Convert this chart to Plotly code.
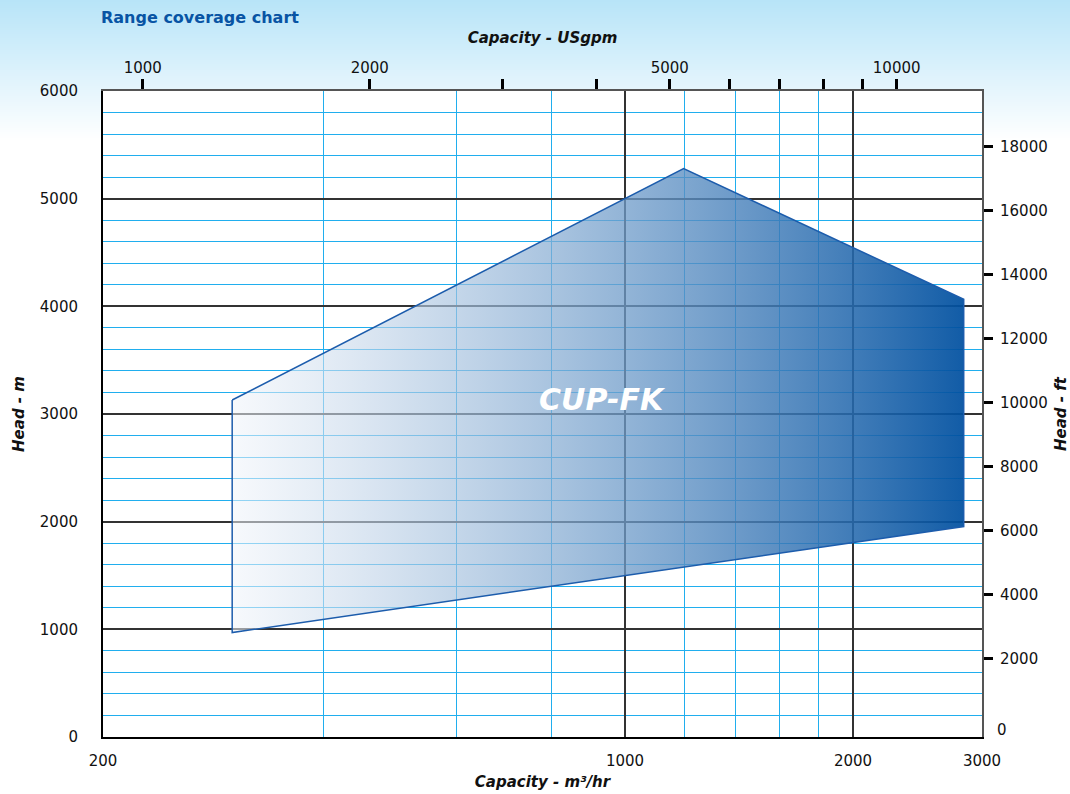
import math
import plotly.graph_objects as go

# ---------------- data ----------------
series_name = "CUP-FK"
capacity_m3h = [303, 1195, 2800, 2800, 303, 303]      # polygon vertices (m3/hr), closed
head_m = [3130, 5280, 4065, 1955, 970, 3130]          # polygon vertices (m), closed
label_capacity = [930]
label_head = [3110]

x_range_m3h = [204.6, 2960]
x_tickvals = [204.6, 1000, 2000, 2960]
x_ticktext = ["200", "1000", "2000", "3000"]
x_minor_grid = [400, 600, 800, 1200, 1400, 1600, 1800]

top_range_gpm = [885.6, 12977]
top_tickvals = [1000, 2000, 3000, 4000, 5000, 6000, 7000, 8000, 9000, 10000]
top_ticktext = ["1000", "2000", "", "", "5000", "", "", "", "", "10000"]

y_range_m = [0, 6000]
y_tickvals = [0, 1000, 2000, 3000, 4000, 5000, 6000]

ft_range = [-450, 19740]
ft_tickvals = [2000, 4000, 6000, 8000, 10000, 12000, 14000, 16000, 18000]
ft_ticktext = ["2000", "4000", "6000", "8000", "10000", "12000", "14000", "16000", "18000"]
ft_zero_label = "0"

# ---------------- style ----------------
FONT = "DejaVu Sans"
BLUE_GRID = "rgb(32,174,238)"
DARK_GRID = "#333333"
TXT = "#111111"

W, H = 1070, 794
ML, MR, MT, MB = 103, 88, 91, 57
PW, PH = W - ML - MR, H - MT - MB

fig = go.Figure()

fig.add_trace(go.Scatter(
    x=capacity_m3h, y=head_m, mode="lines", fill="toself",
    line=dict(color="rgb(28,92,172)", width=1.5),
    fillgradient=dict(type="horizontal",
                      colorscale=[[0, "rgba(240,244,250,0.55)"],
                                  [1, "rgba(0,80,160,0.93)"]]),
    hoverinfo="skip", name=series_name))

fig.add_trace(go.Scatter(
    x=label_capacity, y=label_head, mode="text",
    text=["<b><i>" + series_name + "</i></b>"],
    textfont=dict(family=FONT, size=30, color="white"),
    hoverinfo="skip"))

# helper traces so secondary axes exist
fig.add_trace(go.Scatter(x=[], y=[], xaxis="x2", yaxis="y", hoverinfo="skip"))
fig.add_trace(go.Scatter(x=[], y=[], xaxis="x", yaxis="y2", hoverinfo="skip"))

# ---------------- background gradient (top band) ----------------
shapes = []
top_col = (183, 228, 248)
band = 140
step = 2
def py_to_paper(py):
    return (H - MB - py) / PH
def px_to_paper(px):
    return (px - ML) / PW
for i in range(0, band, step):
    t = (i + step / 2) / band
    c = tuple(round(top_col[k] + (255 - top_col[k]) * t) for k in range(3))
    col = "rgb(%d,%d,%d)" % c
    y0, y1 = py_to_paper(i + step), py_to_paper(i)
    if i + step <= MT:
        pieces = [(px_to_paper(0), px_to_paper(W))]
    else:
        pieces = [(px_to_paper(0), 0), (1, px_to_paper(W))]
    for a, b in pieces:
        shapes.append(dict(type="rect", xref="paper", yref="paper", x0=a, x1=b,
                           y0=y0, y1=y1, fillcolor=col, line=dict(width=0),
                           layer="below"))

fig.update_layout(
    width=W, height=H, autosize=False,
    margin=dict(l=ML, r=MR, t=MT, b=MB, pad=0, autoexpand=False),
    paper_bgcolor="white", plot_bgcolor="white",
    showlegend=False,
    shapes=shapes,
    font=dict(family=FONT, size=15, color=TXT),
    title=dict(text="<b>Range coverage chart</b>", x=101 / W, xanchor="left",
               xref="container", y=1 - 17 / H, yanchor="middle", yref="container",
               automargin=False,
               font=dict(family=FONT, size=16, color="rgb(8,84,164)")),
    xaxis=dict(type="log", range=[math.log10(v) for v in x_range_m3h],
               automargin=False,
               tickmode="array", tickvals=x_tickvals, ticktext=x_ticktext,
               ticks="", showline=True, linecolor="black", linewidth=2,
               showgrid=True, gridcolor=DARK_GRID, gridwidth=1.5, zeroline=False,
               minor=dict(tickmode="array", tickvals=x_minor_grid, showgrid=True,
                          gridcolor=BLUE_GRID, gridwidth=1.3),
               ticklabelstandoff=9,
               title=dict(text="<b><i>Capacity - m³/hr</i></b>", standoff=7,
                          font=dict(family=FONT, size=15, color=TXT))),
    xaxis2=dict(type="log", overlaying="x", side="top", automargin=False,
                range=[math.log10(v) for v in top_range_gpm],
                tickmode="array", tickvals=top_tickvals, ticktext=top_ticktext,
                ticks="outside", ticklen=10, tickwidth=3, tickcolor="black",
                showline=True, linecolor="#555555", linewidth=2,
                showgrid=False, zeroline=False,
                title=dict(text="<b><i>Capacity - USgpm</i></b>", standoff=12,
                           font=dict(family=FONT, size=15, color=TXT))),
    yaxis=dict(range=y_range_m, tickmode="array", tickvals=y_tickvals,
               automargin=False,
               ticks="", showline=True, linecolor="black", linewidth=2,
               showgrid=True, gridcolor=DARK_GRID, gridwidth=1.5, zeroline=False,
               minor=dict(dtick=200, tick0=0, showgrid=True, gridcolor=BLUE_GRID,
                          gridwidth=1.3),
               ticklabelstandoff=20,
               title=dict(text="<b><i>Head - m</i></b>", standoff=12,
                          font=dict(family=FONT, size=15, color=TXT))),
    yaxis2=dict(overlaying="y", side="right", range=ft_range, automargin=False,
                tickmode="array", tickvals=ft_tickvals, ticktext=ft_ticktext,
                ticks="outside", ticklen=9, tickwidth=3, tickcolor="black",
                showline=True, linecolor="#555555", linewidth=2,
                showgrid=False, zeroline=False, ticklabelstandoff=4,
                title=dict(text="<b><i>Head - ft</i></b>", standoff=14,
                           font=dict(family=FONT, size=15, color=TXT))),
    annotations=[dict(text=ft_zero_label, xref="paper", x=1, xanchor="left",
                      xshift=13, yref="y2", y=-230, yanchor="middle",
                      showarrow=False, font=dict(family=FONT, size=15, color=TXT))],
)

fig.write_html("out.html", config={"displayModeBar": False},
               post_script="document.body.style.margin='0px';")
